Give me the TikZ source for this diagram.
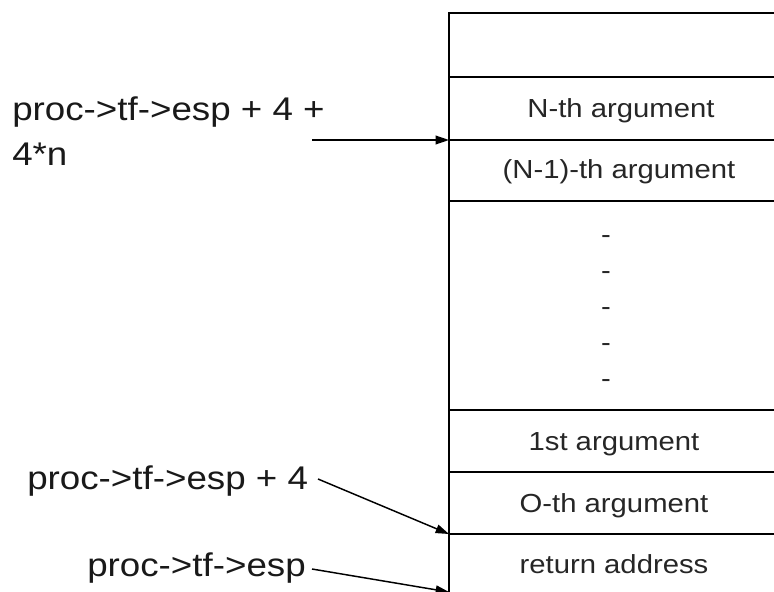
\documentclass[tikz,border=0pt]{standalone}
\usepackage{fontspec}
\setmainfont{Liberation Sans}[FakeStretch=1.12]
\usetikzlibrary{arrows.meta}
\begin{document}
\begin{tikzpicture}[x=0.75pt,y=-0.75pt,
  tbl/.style={line width=1.5pt,black},
  ptr/.style={line width=1.1pt,black,-{Triangle[length=10pt,width=6.5pt]}},
  lbl/.style={inner sep=0pt,align=left,font=\fontsize{24.6pt}{33.75pt}\selectfont,text=black!90},
  cell/.style={inner sep=0pt,align=center,font=\fontsize{19.6pt}{27pt}\selectfont,text=black!85}]
\useasboundingbox (0,0) rectangle (774,592);
\clip (0,0) rectangle (774,592);

% stack frame: left edge and row separators (frame runs past the right and bottom)
\coordinate (top)   at (449,13);
\coordinate (bN)    at (449,77.5);
\coordinate (bN1)   at (449,140);
\coordinate (bdots) at (449,201);
\coordinate (b1)    at (449,410);
\coordinate (b0)    at (449,472);
\coordinate (bret)  at (449,534);
\coordinate (bend)  at (449,592);
\draw[tbl] (449,600) -- (top) -- (800,13);
\foreach \c in {bN,bN1,bdots,b1,b0,bret}
  \draw[tbl] (\c) -- ++(360,0);

% cell contents
\node[cell,anchor=base] (argN)  at (621,117) {N-th argument};
\node[cell,anchor=base] (argN1) at (619,178.5) {(N-1)-th argument};
\node[cell] (dots) at (606,312) {-\\-\\-\\-\\-};
\node[cell,anchor=base] (arg1)  at (614,450) {1st argument};
\node[cell,anchor=base] (arg0)  at (614,512) {O-th argument};
\node[cell,anchor=base] (ret)   at (614,573) {return address};

% pointer labels (base of a two-line label is its last line)
\node[lbl,anchor=base west] (pN) at (12,165) {proc->tf->esp + 4 +\\4*n};
\node[lbl,anchor=base west] (p4) at (27,489) {proc->tf->esp + 4};
\node[lbl,anchor=base west] (p0) at (87,576) {proc->tf->esp};

% pointer arrows
\coordinate (sN) at (312,140);
\coordinate (s4) at (318,479);
\coordinate (s0) at (312,569);
\draw[ptr] (sN) -- (bN1);
\draw[ptr] (s4) -- (bret);
\draw[ptr] (s0) -- (bend);
\end{tikzpicture}
\end{document}
